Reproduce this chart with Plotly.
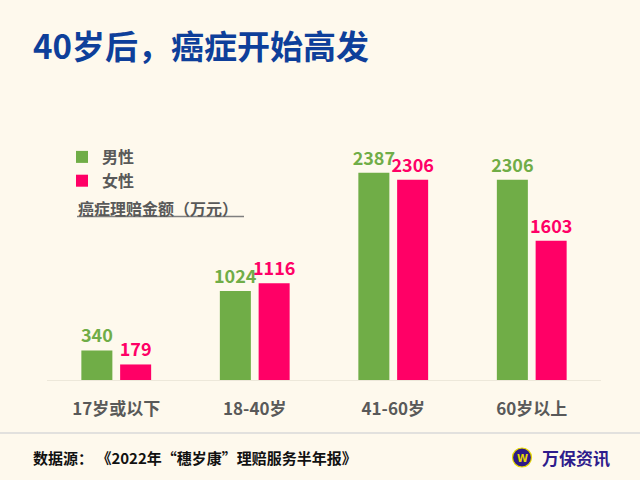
import plotly.graph_objects as go

categories = ["17岁或以下", "18-40岁", "41-60岁", "60岁以上"]
male = [340, 1024, 2387, 2306]
female = [179, 1116, 2306, 1603]
series_names = ["男性", "女性"]

GREEN = "#70AD47"
PINK = "#FF0066"
BG = "#FEF9ED"
GRAY = "#595959"
FONT = "Noto Sans CJK SC"

W, H = 640, 480
L, R, T, B = 47, 601, 150, 380


def px(x):
    return (x - L) / (R - L)


def py(y):
    return (B - y) / (B - T)


fig = go.Figure()
fig.add_trace(go.Bar(
    x=categories, y=male, name=series_names[0], marker=dict(color=GREEN, line=dict(width=0)),
    text=[str(v) for v in male], textposition="outside", cliponaxis=False, constraintext="none",
    textfont=dict(family=FONT, size=18, color=GREEN, weight=700),
))
fig.add_trace(go.Bar(
    x=categories, y=female, name=series_names[1], marker=dict(color=PINK, line=dict(width=0)),
    text=[str(v) for v in female], textposition="outside", cliponaxis=False, constraintext="none",
    textfont=dict(family=FONT, size=18, color=PINK, weight=700),
))

fig.update_layout(
    width=W, height=H,
    margin=dict(l=L, r=W - R, t=T, b=H - B, pad=0),
    paper_bgcolor=BG, plot_bgcolor=BG,
    barmode="group", bargap=0.44, bargroupgap=0.2,
    font=dict(family=FONT, color=GRAY),
    title=dict(
        text="40岁后，癌症开始高发", xref="container", yref="container",
        x=33 / W, y=1 - 47 / H, xanchor="left", yanchor="middle",
        font=dict(family=FONT, size=33, color="#0E3F9A", weight=700),
    ),
    xaxis=dict(
        showgrid=False, zeroline=False, showline=True, linecolor="#EDE8DA", linewidth=1,
        ticks="", ticklabelstandoff=14,
        tickfont=dict(family=FONT, size=17, color=GRAY, weight=700),
    ),
    yaxis=dict(visible=False, range=[0, 2650]),
    showlegend=True,
    legend=dict(
        x=px(62), y=py(140), xanchor="left", yanchor="top",
        bgcolor="rgba(0,0,0,0)", font=dict(family=FONT, size=16, color=GRAY, weight=700),
        itemwidth=30, tracegroupgap=0,
    ),
)

# subtitle with underline
fig.add_annotation(
    x=px(76), y=py(208), xref="paper", yref="paper", xanchor="left", yanchor="middle",
    text="癌症理赔金额（万元）", showarrow=False,
    font=dict(family=FONT, size=16, color=GRAY, weight=700),
)
fig.add_shape(type="line", xref="paper", yref="paper",
              x0=px(77), x1=px(244), y0=py(216.5), y1=py(216.5),
              line=dict(color="#7F7F7F", width=1.5))

# footer
fig.add_shape(type="line", xref="paper", yref="paper",
              x0=px(0), x1=px(640), y0=py(433), y1=py(433),
              line=dict(color="#D9D9D9", width=1.5))
fig.add_annotation(
    x=px(31), y=py(457), xref="paper", yref="paper", xanchor="left", yanchor="middle",
    text="数据源： 《2022年“穗岁康”理赔服务半年报》", showarrow=False,
    font=dict(family=FONT, size=15, color="#111111", weight=700),
)
fig.add_shape(type="circle", xref="paper", yref="paper",
              x0=px(512.5), x1=px(531.5), y0=py(448), y1=py(467),
              fillcolor="#2E1A87", line=dict(color="#E6D800", width=1.2))
fig.add_annotation(
    x=px(522), y=py(458), xref="paper", yref="paper", xanchor="center", yanchor="middle",
    text="W", showarrow=False,
    font=dict(family="DejaVu Sans", size=10, color="#E6D800", weight=700),
)
fig.add_annotation(
    x=px(540), y=py(457), xref="paper", yref="paper", xanchor="left", yanchor="middle",
    text="万保资讯", showarrow=False,
    font=dict(family=FONT, size=17, color="#2E1C8C", weight=700),
)

fig.write_html("out.html")
